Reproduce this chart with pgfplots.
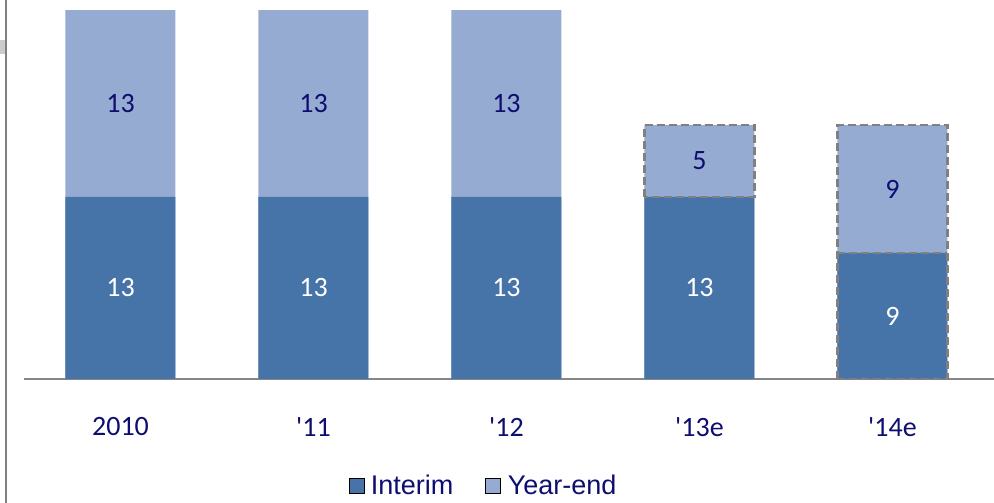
\documentclass[border=0pt]{standalone}
\usepackage{pgfplots}
\pgfplotsset{compat=1.18}
\usepackage{fontspec}
\setmainfont{Carlito}
\newfontfamily\calibri{Carlito}
\newfontfamily\arialfont{Liberation Sans}
\definecolor{interim}{RGB}{70,116,168}
\definecolor{yearend}{RGB}{149,171,210}
\definecolor{navy}{RGB}{14,14,112}
\definecolor{dashgray}{RGB}{128,128,128}
\definecolor{axgray}{RGB}{134,134,134}
\pgfplotsset{sq legend/.style={legend image code/.code={\fill[##1] (0pt,-7.5pt) rectangle (15pt,7.5pt); \path (20pt,0pt);}}}
\begin{document}
\begin{tikzpicture}
\useasboundingbox (0pt,0pt) rectangle (994pt,503pt);
\fill[gray!40] (0pt,449pt) rectangle (6pt,463pt);
\draw[gray, line width=2.5pt] (6pt,0pt) -- (6pt,503pt);
\begin{axis}[at={(24pt,124pt)}, anchor=south west, scale only axis,
  width=970pt, height=379pt,
  xmin=-0.5, xmax=4.526, ymin=0, ymax=27.07,
  axis x line=bottom, axis y line=none,
  axis line style={-, draw=axgray, line width=2pt},
  xtick={0,1,2,3,4},
  xticklabels={2010,'11,'12,'13e,'14e},
  major tick length=0pt, ytick=\empty,
  xticklabel style={font=\calibri\fontsize{28}{32}\selectfont, text=navy, anchor=center, yshift=-48pt},
  clip=false,
  bar width=110pt,
  legend style={at={(0.4737,-0.282)}, anchor=center, draw=none, fill=none,
    legend columns=2, font=\arialfont\fontsize{27}{30}\selectfont, text=navy,
    /tikz/every even column/.append style={column sep=30pt}},
  legend cell align=left,
]
% totals (interim + year-end)
\addplot[ybar, bar shift=0pt, fill=yearend, draw=none, forget plot]
  coordinates {(0,26.35) (1,26.35) (2,26.35) (3,18.14) (4,18.14)};
% interim
\addplot[ybar, bar shift=0pt, fill=interim, draw=none, forget plot]
  coordinates {(0,13) (1,13) (2,13) (3,13) (4,9)};
% dashed outlines (estimates)
\addplot[dashgray, line width=2.5pt, dash pattern=on 8pt off 4pt, mark=none, forget plot]
  coordinates {(2.715,13) (2.715,18.14) (3.285,18.14) (3.285,13) (2.715,13)};
\addplot[dashgray, line width=2.5pt, dash pattern=on 8pt off 4pt, mark=none, forget plot]
  coordinates {(3.715,0) (3.715,18.14) (4.285,18.14) (4.285,0) (3.715,0)};
\addplot[dashgray, line width=2.5pt, dash pattern=on 8pt off 4pt, mark=none, forget plot]
  coordinates {(3.715,9) (4.285,9)};
% labels year-end
\addplot[only marks, mark=none, forget plot, nodes near coords, point meta=explicit symbolic,
  every node near coord/.append style={anchor=center, font=\calibri\fontsize{28}{32}\selectfont, text=navy}]
  coordinates {(0,19.68)[13] (1,19.68)[13] (2,19.68)[13] (3,15.57)[5] (4,13.57)[9]};
% labels interim
\addplot[only marks, mark=none, forget plot, nodes near coords, point meta=explicit symbolic,
  every node near coord/.append style={anchor=center, font=\calibri\fontsize{28}{32}\selectfont, text=white}]
  coordinates {(0,6.5)[13] (1,6.5)[13] (2,6.5)[13] (3,6.5)[13] (4,4.5)[9]};
\addlegendimage{sq legend, fill=interim}
\addlegendentry{Interim}
\addlegendimage{sq legend, fill=yearend}
\addlegendentry{Year-end}
\end{axis}
\end{tikzpicture}
\end{document}
